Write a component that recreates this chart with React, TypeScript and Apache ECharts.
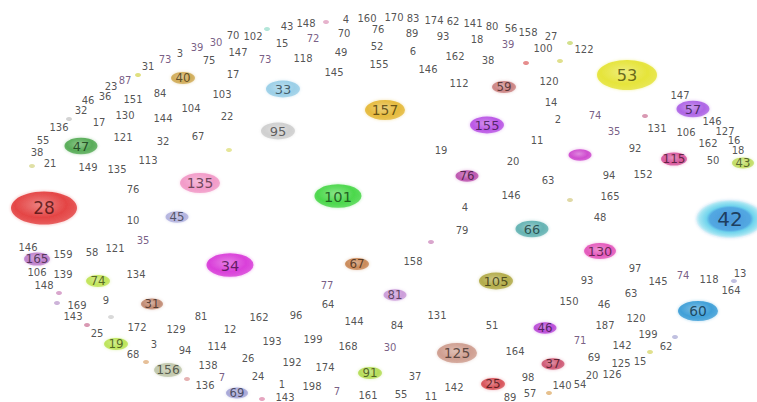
import React, { useEffect, useRef } from "react";
import * as echarts from "echarts";

// Big bubble nodes: label, position (x, y) and weight (drawn width)
const bubbleNames = ["28", "53", "42", "101", "157", "34", "135", "95", "33", "47", "155", "57", "115", "43", "76", "66", "130", "60", "105", "67", "81", "45", "165", "74", "31", "19", "156", "69", "91", "125", "25", "46", "37", "59", "40", ""];
const bubbleX = [44, 627, 730, 338, 385, 230, 200, 278, 283, 81, 487, 693, 674, 743, 467, 532, 600, 698, 496, 357, 395, 177, 37, 98, 152, 116, 168, 237, 370, 457, 493, 545, 553, 504, 183, 580];
const bubbleY = [208, 75, 219, 196, 110, 265, 183, 131, 89, 146, 125, 109, 159, 163, 176, 229, 251, 311, 281, 264, 295, 217, 259, 281, 304, 344, 370, 393, 373, 353, 384, 328, 364, 87, 78, 155];
const bubbleWeight = [66, 60, 68, 47, 40, 47, 40, 34, 34, 33, 34, 33, 26, 22, 23, 33, 32, 40, 34, 24, 23, 23, 26, 24, 22, 24, 28, 22, 24, 40, 24, 23, 23, 24, 24, 23];

// Small text-only nodes
const wordNames = [
  "3", "73", "31", "87", "23", "46", "36", "151", "84", "32", "130", "144", "17", "136", "104",
  "43", "148", "4", "160", "70", "102", "30", "39", "15", "72", "70", "52", "147", "75", "73", "118", "49", "145", "155", "17", "103", "22", "67", "76",
  "170", "83", "174", "62", "141", "80", "56", "158", "27", "89", "93", "18", "39", "100", "6", "162", "38", "146", "112", "120", "14", "2",
  "122", "147", "74", "146", "35", "131", "106", "127",
  "55", "121", "32", "38", "21", "149", "135", "113", "76", "10", "35", "146", "121", "58", "159",
  "11", "19", "20", "63", "146", "4", "79", "158",
  "92", "162", "16", "18", "50", "94", "152", "165", "48", "97",
  "106", "139", "134", "148", "169", "9", "143", "25", "172", "129", "3", "94", "68",
  "77", "64", "81", "162", "96", "144", "12", "114", "193", "199", "168", "138", "26", "192", "174", "7", "24", "136", "1", "198", "7", "143", "161",
  "150", "131", "84", "51", "30", "164", "37", "142", "98", "140", "55", "11", "57", "89",
  "145", "74", "118", "13", "164", "93", "63", "46", "120", "187", "71", "199", "142", "62", "69", "125", "15", "20", "126", "54"
];
const wordX = [
  180, 165, 148, 125, 111, 88, 105, 133, 160, 81, 125, 163, 99, 59, 191,
  287, 306, 346, 367, 233, 253, 216, 197, 282, 313, 344, 377, 238, 209, 265, 303, 341, 334, 379, 233, 222, 227, 198, 378,
  394, 413, 434, 453, 473, 492, 511, 528, 551, 412, 443, 477, 508, 543, 413, 455, 488, 428, 459, 549, 551, 558,
  584, 680, 595, 712, 614, 657, 686, 725,
  43, 123, 163, 37, 50, 88, 117, 148, 133, 133, 143, 28, 115, 92, 63,
  537, 441, 513, 548, 511, 465, 462, 413,
  635, 708, 734, 738, 713, 609, 643, 610, 600, 635,
  37, 63, 136, 44, 77, 106, 73, 97, 137, 176, 154, 185, 133,
  327, 328, 201, 259, 296, 354, 230, 217, 272, 313, 348, 208, 248, 292, 325, 222, 258, 205, 282, 312, 337, 285, 368,
  569, 437, 397, 492, 390, 515, 415, 454, 528, 562, 401, 431, 530, 510,
  658, 683, 709, 740, 731, 587, 631, 604, 636, 605, 580, 648, 622, 666, 594, 621, 640, 592, 612, 580
];
const wordY = [
  53, 59, 66, 80, 86, 100, 96, 99, 93, 110, 115, 118, 122, 127, 108,
  26, 23, 19, 18, 35, 36, 42, 47, 43, 38, 33, 46, 52, 60, 59, 58, 52, 72, 64, 74, 94, 116, 136, 29,
  17, 18, 20, 21, 23, 26, 28, 32, 36, 33, 36, 39, 44, 48, 51, 56, 60, 69, 83, 81, 102, 119,
  49, 95, 115, 121, 131, 128, 132, 131,
  140, 137, 141, 152, 163, 167, 169, 160, 189, 220, 240, 247, 248, 252, 254,
  140, 150, 161, 180, 195, 207, 230, 261,
  148, 143, 140, 150, 160, 175, 174, 196, 217, 268,
  272, 274, 274, 285, 305, 300, 316, 333, 327, 329, 344, 350, 354,
  285, 304, 316, 317, 315, 321, 329, 346, 341, 339, 346, 365, 358, 362, 367, 377, 376, 385, 384, 386, 391, 397, 395,
  301, 315, 325, 325, 347, 351, 376, 387, 377, 385, 394, 396, 393, 397,
  281, 275, 279, 273, 290, 280, 293, 304, 318, 325, 340, 334, 345, 346, 357, 363, 361, 375, 374, 384
];

// Tiny unlabeled dots
const dotX = [138, 69, 267, 326, 526, 560, 570, 645, 32, 229, 570, 431, 59, 57, 111, 87, 146, 187, 262, 549, 734, 675, 650];
const dotY = [75, 119, 29, 22, 63, 61, 43, 116, 166, 150, 200, 242, 293, 303, 317, 325, 362, 379, 399, 393, 281, 337, 352];

// Styling (kept apart from the data)
const bubblePalette = ["#e02a2a", "#e2e01e", "#2a8ad6", "#32d232", "#e2b020", "#d424d4", "#f08cc0", "#c8c8c8", "#8cc8e4", "#3fa03f", "#b03ee2", "#a24ee2", "#d2408e", "#b8d84e", "#b43ea4", "#4ea8a8", "#e040b2", "#2492d2", "#a8a030", "#c27840", "#c48ed4", "#a8a8da", "#b46ec4", "#b8e040", "#b87a60", "#b2e040", "#b8c0a0", "#9a9ad2", "#aad840", "#c89080", "#d23a42", "#b032d2", "#c84262", "#c47272", "#caa040", "#c832c8"];
const dotPalette = ["#d8d860", "#c8c8c8", "#a0e0d0", "#e0a0c0", "#e07070", "#d8d870", "#c8d870", "#d080a0", "#d8d890", "#e0e080", "#d8d090", "#d090c0", "#d090c0", "#c0a0d0", "#d0d0d0", "#d080a0", "#e0b080", "#e0a0a0", "#e090b0", "#e0b070", "#b0b0d8", "#b0b0d8", "#d8d870"];
const purpleWords = new Set(["30", "72", "7", "77", "71", "74", "35", "87", "39", "73"]);

function hexToRgb(h: string) {
  const n = parseInt(h.slice(1), 16);
  return [(n >> 16) & 255, (n >> 8) & 255, n & 255];
}
function mix(a: string, b: string, t: number) {
  const x = hexToRgb(a);
  const y = hexToRgb(b);
  const r = x.map((v, i) => Math.round(v + (y[i] - v) * t));
  return `rgb(${r[0]},${r[1]},${r[2]})`;
}
function rgba(a: string, al: number) {
  const x = hexToRgb(a);
  return `rgba(${x[0]},${x[1]},${x[2]},${al})`;
}

export default function App() {
  const ref = useRef<HTMLDivElement>(null);
  useEffect(() => {
    if (!ref.current) return;
    const chart = echarts.init(ref.current, undefined, { renderer: "svg" });

    const bubbleData = bubbleNames.map((name, i) => {
      const c = bubblePalette[i];
      const w = bubbleWeight[i];
      const special = name === "42";
      const fill = special
        ? new echarts.graphic.RadialGradient(0.5, 0.5, 0.5, [
            { offset: 0, color: "#2f86d2" },
            { offset: 0.6, color: "#3a9ddf" },
            { offset: 0.7, color: "#5ed2ec" },
            { offset: 0.9, color: "#9ae6f2" },
            { offset: 1, color: "rgba(190,240,248,0.4)" },
          ])
        : new echarts.graphic.RadialGradient(0.45, 0.4, 0.65, [
            { offset: 0, color: mix(c, "#ffffff", 0.35) },
            { offset: 0.6, color: c },
            { offset: 1, color: mix(c, "#ffffff", 0.15) },
          ]);
      return {
        name,
        value: [bubbleX[i], bubbleY[i], w],
        symbolSize: [w, w * (special ? 0.56 : 0.5)],
        itemStyle: {
          color: fill,
          shadowBlur: 3,
          shadowColor: rgba(c, 0.45),
        },
        label: {
          show: name !== "",
          formatter: name,
          position: "inside",
          fontSize: special ? 20 : 9 + w * 0.12,
          fontFamily: "DejaVu Sans",
          color: special ? "#10243c" : mix(c, "#000000", 0.68),
        },
      };
    });

    const wordData = wordNames.map((name, i) => ({
      name,
      value: [wordX[i], wordY[i]],
      label: {
        color: purpleWords.has(name) ? "#553466" : "#262626",
      },
    }));

    const dotData = dotX.map((x, i) => ({
      value: [x, dotY[i]],
      itemStyle: { color: dotPalette[i] },
    }));

    chart.setOption({
      animation: false,
      backgroundColor: "#ffffff",
      grid: { left: 0, right: 0, top: 0, bottom: 0 },
      xAxis: { type: "value", min: 0, max: 757, show: false },
      yAxis: { type: "value", min: 0, max: 402, inverse: true, show: false },
      series: [
        {
          type: "scatter",
          data: dotData,
          symbol: "circle",
          symbolSize: [6, 4],
          silent: true,
        },
        {
          type: "scatter",
          data: wordData,
          symbolSize: 0,
          label: {
            show: true,
            position: "inside",
            formatter: (p: any) => p.name,
            fontSize: 10,
            fontFamily: "DejaVu Sans",
          },
        },
        {
          type: "scatter",
          data: bubbleData,
          symbol: "circle",
        },
      ],
    });
    return () => chart.dispose();
  }, []);
  return (
    <div
      ref={ref}
      style={{ position: "absolute", left: 0, top: 0, width: 757, height: 402 }}
    />
  );
}
